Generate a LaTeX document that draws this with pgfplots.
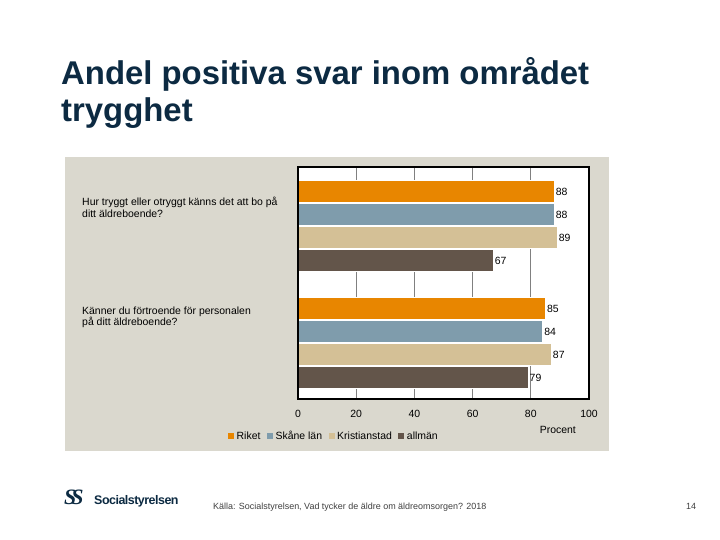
\documentclass[border=0pt]{standalone}
\usepackage{fontspec}
\setmainfont{Liberation Sans}
\newfontfamily\serifemb{Liberation Serif}
\usepackage{pgfplots}
\pgfplotsset{compat=1.18}
\definecolor{cOrange}{RGB}{232,134,0}
\definecolor{cBlue}{RGB}{127,156,172}
\definecolor{cTan}{RGB}{212,192,150}
\definecolor{cDark}{RGB}{99,85,74}
\definecolor{panel}{RGB}{218,216,206}
\definecolor{navy}{RGB}{12,42,66}
\begin{document}
\begin{tikzpicture}
\begin{scope}[x=1bp,y=1bp]
\useasboundingbox (0,0) rectangle (720,540);
\fill[white] (0,0) rectangle (720,540);
\fill[panel] (65,89) rectangle (609,383);
% title
\node[anchor=base west, inner sep=0, font=\fontsize{33}{38}\selectfont\bfseries, text=navy] at (61,455) {Andel positiva svar inom området};
\node[anchor=base west, inner sep=0, font=\fontsize{33}{38}\selectfont\bfseries, text=navy] at (61,418) {trygghet};
% category labels
\begin{scope}[every node/.style={anchor=base west, inner sep=0, font=\fontsize{10.5}{12}\selectfont}]
\node at (82,334) {Hur tryggt eller otryggt känns det att bo på};
\node at (82,322.5) {ditt äldreboende?};
\node at (82,225) {Känner du förtroende för personalen};
\node at (82,214) {på ditt äldreboende?};
\end{scope}
% footer
\node[anchor=base west, inner sep=0, font=\serifemb\fontsize{22}{22}\selectfont\bfseries\itshape, text=navy] at (64,35) {S\kern-5bp S};
\node[anchor=base west, inner sep=0, font=\fontsize{12.5}{13}\selectfont\bfseries, text=navy] at (94,35) {\addfontfeature{LetterSpace=-4}Socialstyrelsen};
\node[anchor=base west, inner sep=0, font=\fontsize{9}{10}\selectfont, text=black!75] at (213,30) {Källa: Socialstyrelsen, Vad tycker de äldre om äldreomsorgen? 2018};
\node[anchor=base west, inner sep=0, font=\fontsize{9}{10}\selectfont, text=black!75] at (686,30) {14};
\end{scope}
\begin{axis}[
  at={(298bp,141bp)}, anchor=south west, scale only axis,
  width=291bp, height=232bp,
  xmin=0, xmax=100, ymin=0, ymax=232, y dir=reverse,
  xbar, bar width=22, bar shift=0,
  axis background/.style={fill=white},
  axis line style={line width=1.5bp},
  xtick={0,20,...,100}, ytick=\empty,
  xmajorgrids, grid style={draw=black!50, line width=1.2bp},
  major tick length=0pt,
  /pgf/number format/assume math mode=true,
  xticklabel style={font=\fontsize{10.5}{12}\selectfont, yshift=-8bp},
  xlabel={Procent},
  xlabel style={at={(0.893,-0.134)}, anchor=center, font=\fontsize{10.5}{12}\selectfont},
  nodes near coords,
  nodes near coords style={anchor=west, inner sep=1.5bp, font=\fontsize{10.5}{12}\selectfont, /pgf/number format/assume math mode=true},
  legend columns=4,
  legend style={at={(-0.241,-0.159)}, anchor=west, draw=none, fill=none,
    font=\fontsize{10.5}{12}\selectfont, inner sep=0pt,
    nodes={text depth=0pt, text height=7.5bp, inner ysep=1.5bp, inner xsep=3bp},
    /tikz/every even column/.append style={column sep=3.5bp}},
  mybar/.style={fill=#1, draw=white, line width=0.6bp,
    legend image code/.code={\fill[#1] (0bp,-2.5bp) rectangle (5bp,2.5bp);}},
  clip=false,
]
\addplot[mybar=cOrange] coordinates {(88,24.5) (85,141.5)};
\addlegendentry{Riket}
\addplot[mybar=cBlue] coordinates {(88,47.5) (84,164.5)};
\addlegendentry{Skåne län}
\addplot[mybar=cTan] coordinates {(89,70.5) (87,187.5)};
\addlegendentry{Kristianstad}
\addplot[mybar=cDark] coordinates {(67,93.5) (79,210.5)};
\addlegendentry{allmän}
\draw[line width=1.5bp] (rel axis cs:0,0) -- (rel axis cs:0,1);
\end{axis}
\end{tikzpicture}
\end{document}
